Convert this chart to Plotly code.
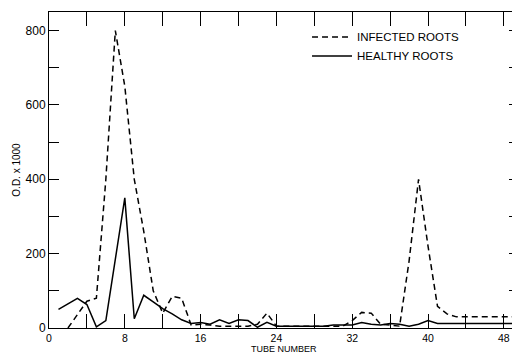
import plotly.graph_objects as go

# Tube numbers and optical density (x 1000)
infected_x = list(range(2, 50))
infected_y = [0, 35, 72, 80, 400, 800, 650, 400, 260, 100, 40, 85, 80, 8,
              10, 8, 5, 5, 5, 5, 10, 40, 5, 5, 5, 5, 5, 5, 5, 5,
              20, 42, 40, 10, 8, 5, 180, 400, 220, 58, 38, 30,
              30, 30, 30, 30, 30, 30]

healthy_x = list(range(1, 50))
healthy_y = [50, 65, 80, 63, 3, 20, 180, 350, 25, 88, 70, 52, 38, 22, 12,
             15, 10, 22, 12, 22, 20, 2, 15, 5, 5, 5, 5, 5, 5, 8, 8,
             8, 15, 10, 8, 12, 10, 5, 10, 20, 12, 12, 12, 12, 12, 12, 12, 12, 12]

x_ticks = list(range(0, 49, 4))
x_labels = [str(v) if v % 8 == 0 else "" for v in x_ticks]
y_ticks = list(range(0, 801, 100))
y_labels = [str(v) if v % 200 == 0 else "" for v in y_ticks]
x_title = "TUBE NUMBER"

font = dict(family="Liberation Sans, Arial, sans-serif", size=12, color="black")

fig = go.Figure()
fig.add_trace(go.Scatter(x=infected_x, y=infected_y, mode="lines",
                         name="INFECTED ROOTS",
                         line=dict(color="black", width=1.5, dash="6px,4px")))
fig.add_trace(go.Scatter(x=healthy_x, y=healthy_y, mode="lines",
                         name="HEALTHY ROOTS",
                         line=dict(color="black", width=1.5)))

fig.update_layout(
    width=512, height=347,
    margin=dict(l=41, r=1, t=4, b=27, autoexpand=False),
    paper_bgcolor="white", plot_bgcolor="white",
    font=font,
    showlegend=True,
    legend=dict(x=0.549, y=0.967, xanchor="left", yanchor="top",
                bgcolor="rgba(0,0,0,0)", font=dict(size=11.5),
                tracegroupgap=1, itemwidth=40),
    annotations=[dict(text=x_title, xref="paper", yref="paper", x=0.5, y=0,
                      xanchor="center", yanchor="top", yshift=-15,
                      showarrow=False, borderpad=0, font=dict(size=9))],
)
fig.update_xaxes(range=[0, 49.6], tickvals=x_ticks, ticktext=x_labels,
                 ticks="inside", ticklen=14, tickwidth=1, tickcolor="black",
                 showline=True, linecolor="black", linewidth=1, mirror="ticks",
                 showgrid=False, zeroline=False, automargin=False,
                 tickfont=dict(size=10.5))
fig.update_yaxes(range=[0, 850], tickvals=y_ticks, ticktext=y_labels,
                 ticks="inside", ticklen=10, tickwidth=1, tickcolor="black",
                 showline=True, linecolor="black", linewidth=1, mirror="ticks",
                 showgrid=False, zeroline=False, automargin=False,
                 title=dict(text="O.D. x 1000", standoff=3, font=dict(size=10)))

fig.write_html("out.html")
